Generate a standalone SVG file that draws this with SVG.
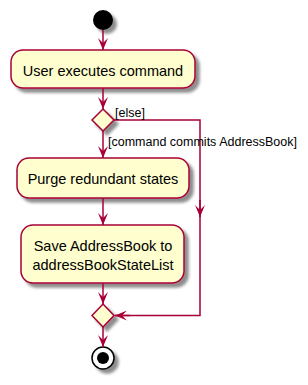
<svg xmlns="http://www.w3.org/2000/svg" width="308" height="385" viewBox="0 0 308 385">
<defs>
<filter id="sh" x="-20%" y="-20%" width="150%" height="160%">
<feGaussianBlur in="SourceAlpha" stdDeviation="1.8"/>
<feOffset dx="4" dy="4" result="b"/>
<feComponentTransfer><feFuncA type="linear" slope="0.45"/></feComponentTransfer>
<feMerge><feMergeNode/><feMergeNode in="SourceGraphic"/></feMerge>
</filter>
<marker id="ah" viewBox="0 0 12 10" refX="12" refY="5" markerWidth="12" markerHeight="10" markerUnits="userSpaceOnUse" orient="auto">
<polygon points="0,0 12,5 0,10 5,5" fill="#A80036"/>
</marker>
</defs>
<style>
.act{fill:#FEFECE;stroke:#A80036;stroke-width:1.5;filter:url(#sh)}
.t{font-family:"Liberation Sans",Arial,sans-serif;font-size:14.5px;fill:#000;text-anchor:middle}
.lbl{font-family:"Liberation Sans",Arial,sans-serif;font-size:12.5px;fill:#000}
.c{fill:none;stroke:#A80036;stroke-width:1.5;marker-end:url(#ah)}
</style>
<g id="start"><circle cx="103" cy="20" r="10" fill="#000" filter="url(#sh)"/></g>
<g id="act1"><rect class="act" x="11" y="50" width="184" height="38" rx="12"/><text class="t" x="103" y="76">User executes command</text></g>
<g id="dec1"><polygon class="act" points="103,109 114,120 103,131 92,120"/></g>
<g id="act2"><rect class="act" x="17" y="158" width="172" height="40" rx="12"/><text class="t" x="103" y="184">Purge redundant states</text></g>
<g id="act3"><rect class="act" x="21" y="225" width="163" height="58" rx="12"/><text class="t" x="103" y="251">Save AddressBook to</text><text class="t" x="103" y="270">addressBookStateList</text></g>
<g id="dec2"><polygon class="act" points="103,304 114,315.5 103,327 92,315.5"/></g>
<g id="end"><circle cx="103" cy="358" r="11" fill="#fff" stroke="#000" stroke-width="1.5" filter="url(#sh)"/><circle cx="103" cy="358" r="6" fill="#000"/></g>
<g id="connectors">
<line class="c" x1="103" y1="30" x2="103" y2="50"/>
<line class="c" x1="103" y1="88" x2="103" y2="109"/>
<line class="c" x1="103" y1="131" x2="103" y2="158"/>
<line class="c" x1="103" y1="198" x2="103" y2="225"/>
<line class="c" x1="103" y1="283" x2="103" y2="304"/>
<line class="c" x1="103" y1="327" x2="103" y2="347"/>
<polyline fill="none" stroke="#A80036" stroke-width="1.5" points="114,120 200,120 200,315.5 115,315.5"/>
<line class="c" x1="200" y1="200" x2="200" y2="217"/>
<line class="c" x1="130" y1="315.5" x2="115" y2="315.5"/>
<text class="lbl" x="115" y="117">[else]</text>
<text class="lbl" x="108" y="146">[command commits AddressBook]</text>
</g>
</svg>
